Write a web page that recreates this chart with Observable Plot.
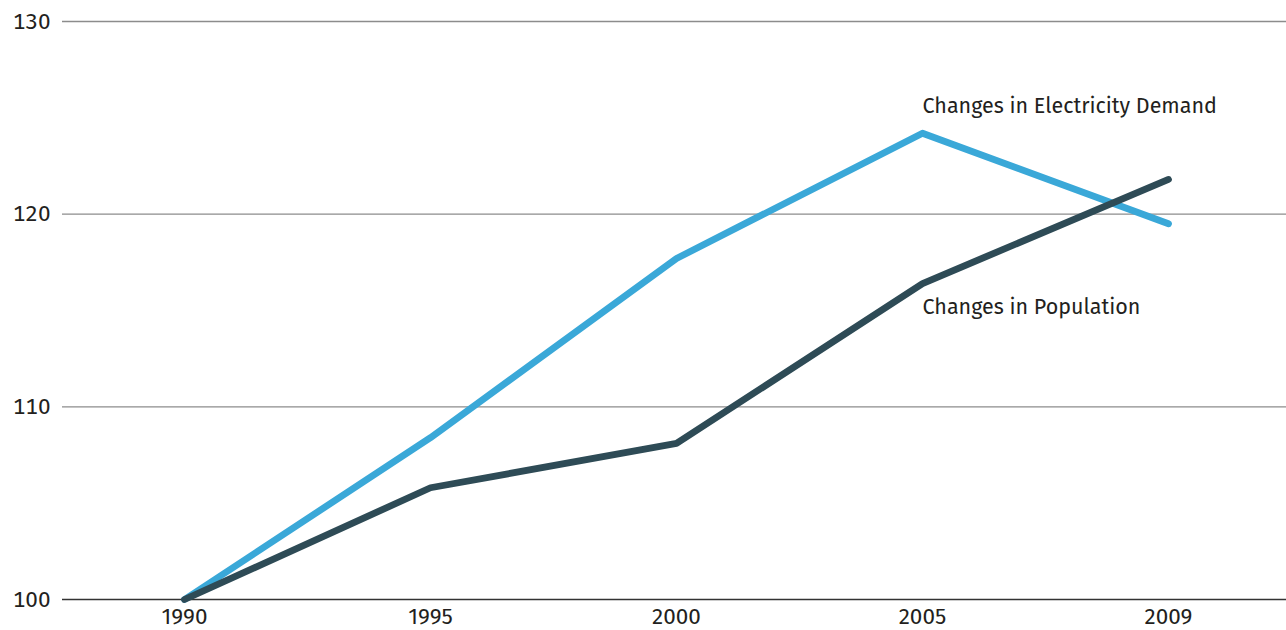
<!DOCTYPE html>
<html>
<head>
<meta charset="utf-8">
<script src="https://cdn.jsdelivr.net/npm/d3@7"></script>
<script src="https://cdn.jsdelivr.net/npm/@observablehq/plot@0.6"></script>
<style>
  html, body { margin: 0; padding: 0; background: #fff; }
  svg { display: block; }
</style>
</head>
<body>
<div id="chart"></div>
<script>
const years = ["1990", "1995", "2000", "2005", "2009"];
const electricity = [100, 108.4, 117.7, 124.2, 119.5];
const population = [100, 105.8, 108.1, 116.4, 121.8];
const yTicks = [100, 110, 120, 130];
const seriesNames = ["Changes in Electricity Demand", "Changes in Population"];
const seriesColors = ["#3aa8d8", "#2e4b56"];

const rows = [
  ...years.map((y, i) => ({year: y, value: electricity[i], series: seriesNames[0]})),
  ...years.map((y, i) => ({year: y, value: population[i], series: seriesNames[1]}))
];
const labels = [
  {year: "2005", value: 125.6, text: seriesNames[0]},
  {year: "2005", value: 115.2, text: seriesNames[1]}
];

const font = "'Fira Sans', 'Open Sans', 'Noto Sans', sans-serif";

const chart = Plot.plot({
  width: 1286,
  height: 630,
  marginLeft: 62,
  marginRight: 0,
  marginTop: 21,
  marginBottom: 31,
  style: {fontFamily: font, fontSize: "22px", color: "#231f20", background: "#fff"},
  x: {type: "point", domain: years, padding: 0.5, range: [61, 1291], label: null},
  y: {domain: [100, 130], ticks: yTicks, label: null},
  color: {domain: seriesNames, range: seriesColors},
  marks: [
    Plot.ruleY(yTicks.filter(d => d !== 100), {stroke: "#8c8c8c", strokeWidth: 1.3}),
    Plot.ruleY([100], {stroke: "#333", strokeWidth: 1.3}),
    Plot.axisY({ticks: yTicks, tickSize: 0, tickPadding: 12, label: null, fontSize: 22.5, fill: "#231f20"}),
    Plot.axisX({tickSize: 0, tickPadding: 9, label: null, fontSize: 22.5, fill: "#231f20"}),
    Plot.line(rows, {x: "year", y: "value", z: "series", stroke: "series", strokeWidth: 6.8, strokeLinecap: "round", strokeLinejoin: "round"}),
    Plot.text(labels, {x: "year", y: "value", text: "text", textAnchor: "start", fontSize: 21.5, fill: "#231f20"})
  ]
});
document.getElementById("chart").appendChild(chart);
</script>
</body>
</html>
